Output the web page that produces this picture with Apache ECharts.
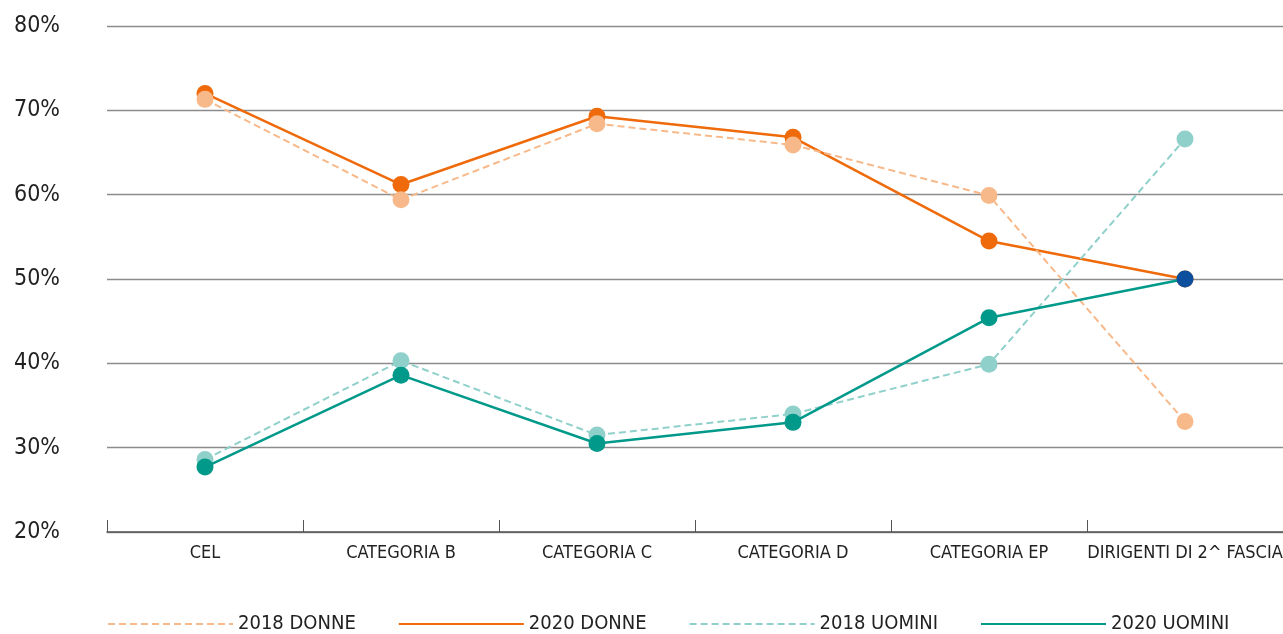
<!DOCTYPE html>
<html><head><meta charset="utf-8">
<script src="https://cdn.jsdelivr.net/npm/echarts@6/dist/echarts.min.js"></script>
<style>html,body{margin:0;padding:0;background:#fff}#c{width:1283px;height:634px}</style>
</head><body><div id="c"></div>
<script>
const categories = ['CEL','CATEGORIA B','CATEGORIA C','CATEGORIA D','CATEGORIA EP','DIRIGENTI DI 2^ FASCIA'];
const donne2018 = [71.3, 59.4, 68.4, 65.9, 59.9, 33.1];
const donne2020 = [72.0, 61.2, 69.3, 66.8, 54.5, 50.0];
const uomini2018 = [28.6, 40.3, 31.5, 34.0, 39.9, 66.6];
const uomini2020 = [27.7, 38.6, 30.5, 33.0, 45.4, 50.0];
const seriesNames = ['2018 DONNE','2020 DONNE','2018 UOMINI','2020 UOMINI'];
const yTicks = [20,30,40,50,60,70,80];

const FONT = '"DejaVu Sans Condensed","Liberation Sans Narrow",Roboto,sans-serif';
const chart = echarts.init(document.getElementById('c'));
function mk(name, data, color, dashed, width, z) {
  return {
    name, type: 'line', data, z, symbol: 'circle', symbolSize: 17,
    lineStyle: {color, width, type: dashed ? [7,4] : 'solid'},
    itemStyle: {color}, emphasis: {disabled: true}, animation: false
  };
}
const lastU = uomini2020.map((v,i)=> i===uomini2020.length-1 ? {value:v, itemStyle:{color:'#0B4F9E'}} : v);
chart.setOption({
  animation: false,
  textStyle: {fontFamily: FONT},
  grid: {left: 107, right: 0, top: 26, bottom: 102, containLabel: false, outerBoundsMode: 'none'},
  xAxis: {
    type: 'category', data: categories, boundaryGap: true,
    axisLine: {lineStyle: {color: '#555', width: 1.5}},
    axisTick: {show: true, inside: true, length: 12, lineStyle: {color: '#555'}},
    axisLabel: {color: '#222', fontSize: 18, margin: 12, fontFamily: FONT, interval: 0}
  },
  yAxis: {
    type: 'value', min: yTicks[0], max: yTicks[yTicks.length-1], interval: 10,
    axisLine: {show: false}, axisTick: {show: false},
    splitLine: {lineStyle: {color: '#8c8c8c', width: 1.3}},
    axisLabel: {formatter: '{value}%', color: '#222', fontSize: 23, align: 'left', margin: 93, fontFamily: FONT}
  },
  legend: {
    data: seriesNames, top: 614, left: 107, padding: 0, itemWidth: 125, itemHeight: 22, itemGap: 42,
    itemStyle: {opacity: 0},
    textStyle: {color: '#222', fontSize: 20, fontFamily: FONT}
  },
  series: [
    mk('2018 DONNE', donne2018, '#F8B98A', true, 2, 3),
    mk('2020 DONNE', donne2020, '#EE6A0A', false, 2.5, 2),
    mk('2018 UOMINI', uomini2018, '#8FD0CB', true, 2, 4),
    mk('2020 UOMINI', lastU, '#00998A', false, 2.5, 5)
  ]
});
</script></body></html>
